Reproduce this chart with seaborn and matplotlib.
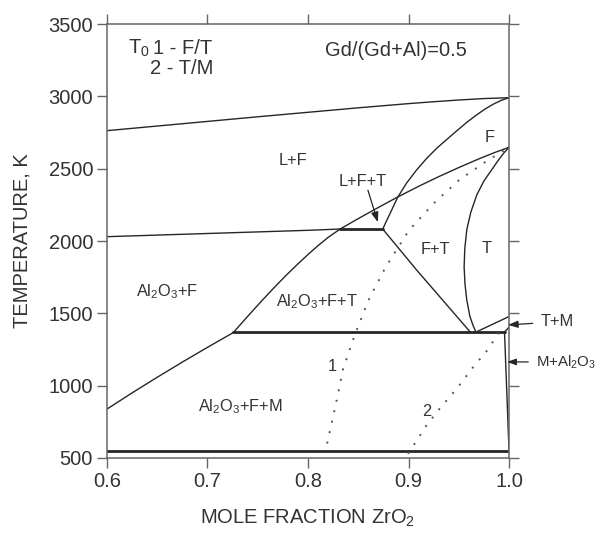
import matplotlib
matplotlib.use("Agg")
import matplotlib.pyplot as plt
import seaborn as sns

# ---- phase boundaries (mole fraction ZrO2, temperature K) ----
liquidus_x = [0.6, 0.65, 0.7, 0.75, 0.8, 0.85, 0.9, 0.925, 0.95, 0.975, 1.0]
liquidus_T = [2763, 2795, 2827, 2859, 2890, 2921, 2950, 2963, 2975, 2985, 2991]

l_lf_x = [0.8743, 0.882, 0.889, 0.898, 0.908, 0.918, 0.928, 0.938, 0.948, 0.958,
          0.967, 0.976, 0.984, 0.992, 1.0]
l_lf_T = [2083, 2196, 2300, 2400, 2491, 2571, 2641, 2702, 2762, 2821,
          2868, 2912, 2945, 2972, 2991]

solidus_left_x = [0.6, 0.7, 0.8, 0.832]
solidus_left_T = [2030, 2052, 2074, 2083]

f_ft_x = [0.832, 0.85, 0.87, 0.888, 0.91, 0.93, 0.95, 0.97, 0.985, 1.0]
f_ft_T = [2083, 2155, 2232, 2300, 2378, 2445, 2508, 2568, 2610, 2648]

peritectic_x = [0.832, 0.8743]
peritectic_T = [2083, 2083]

al_f_lower_x = [0.6, 0.625, 0.65, 0.675, 0.7, 0.7257]
al_f_lower_T = [838, 950, 1058, 1163, 1265, 1367]

al_f_upper_x = [0.7257, 0.735, 0.745, 0.755, 0.767, 0.779, 0.79, 0.80, 0.81, 0.82, 0.832]
al_f_upper_T = [1367, 1440, 1518, 1594, 1683, 1768, 1842, 1907, 1968, 2025, 2083]

ft_alft_x = [0.8743, 0.908, 0.9615]
ft_alft_T = [2083, 1800, 1370]

t_ft_x = [1.0, 0.995, 0.99, 0.983, 0.975, 0.968, 0.962, 0.958, 0.956, 0.9553,
          0.9562, 0.958, 0.961, 0.964, 0.967]
t_ft_T = [2648, 2610, 2565, 2495, 2415, 2320, 2200, 2080, 1950, 1820,
          1700, 1590, 1480, 1420, 1370]

eutectoid_x = [0.7257, 0.9955]
eutectoid_T = [1370, 1370]

t_tm_x = [0.967, 1.0]
t_tm_T = [1370, 1478]

tm_m_x = [0.9955, 1.0]
tm_m_T = [1370, 1405]

m_al_x = [0.9955, 1.0]
m_al_T = [1370, 545]

low_x = [0.6, 1.0]
low_T = [545, 545]

# ---- T0 curves ----
t0_ft_x = [0.819, 0.827, 0.835, 0.847, 0.86, 0.877, 0.9, 0.925, 0.95, 0.975, 0.991, 1.0]
t0_ft_T = [600, 850, 1118, 1360, 1589, 1817, 2070, 2260, 2420, 2540, 2610, 2648]

t0_tm_x = [0.8995, 0.919, 0.931, 0.948, 0.964, 0.978, 0.988, 0.994]
t0_tm_T = [529, 737, 841, 980, 1125, 1242, 1346, 1402]

x_ticks = [0.6, 0.7, 0.8, 0.9, 1.0]
x_tick_labels = ["0.6", "0.7", "0.8", "0.9", "1.0"]
y_ticks = [500, 1000, 1500, 2000, 2500, 3000, 3500]

sns.set_theme(style="ticks")
plt.rcParams["font.family"] = ["Liberation Sans", "DejaVu Sans"]
plt.rcParams["mathtext.fontset"] = "custom"
plt.rcParams["mathtext.rm"] = "Liberation Sans"
plt.rcParams["mathtext.it"] = "Liberation Sans:italic"
plt.rcParams["mathtext.bf"] = "Liberation Sans:bold"

line_c = "#262626"
axis_c = "#666666"
text_c = "#333333"

fig = plt.figure(figsize=(6.01, 5.35), dpi=100)
ax = fig.add_axes([0.178, 0.144, 0.669, 0.811])

thin = 1.0
thick = 2.0

def curve(xs, ys, lw=thin, ls="-", color=line_c):
    sns.lineplot(x=xs, y=ys, ax=ax, sort=False, estimator=None,
                 color=color, lw=lw, linestyle=ls, legend=False,
                 solid_joinstyle="round")

curve(liquidus_x, liquidus_T)
curve(l_lf_x, l_lf_T)
curve(solidus_left_x, solidus_left_T)
curve(f_ft_x, f_ft_T)
curve(peritectic_x, peritectic_T, lw=thick)
curve(al_f_lower_x, al_f_lower_T)
curve(al_f_upper_x, al_f_upper_T)
curve(ft_alft_x, ft_alft_T)
curve(t_ft_x, t_ft_T)
curve(eutectoid_x, eutectoid_T, lw=thick)
curve(t_tm_x, t_tm_T)
curve(tm_m_x, tm_m_T)
curve(m_al_x, m_al_T)
curve(low_x, low_T, lw=thick)
curve(t0_ft_x, t0_ft_T, lw=1.4, ls=(0, (1, 4.5)), color="#555555")
curve(t0_tm_x, t0_tm_T, lw=1.4, ls=(0, (1, 4.5)), color="#555555")

ax.set_xlim(0.6, 1.0)
ax.set_ylim(500, 3500)
ax.set_xticks(x_ticks)
ax.set_xticklabels(x_tick_labels)
ax.set_yticks(y_ticks)
ax.tick_params(direction="out", length=7, width=1.0, color=axis_c,
               labelsize=14.5, labelcolor=text_c, top=True, right=True, pad=3)
for s in ax.spines.values():
    s.set_visible(True)
    s.set_color(axis_c)
    s.set_linewidth(1.1)

ax.set_xlabel("MOLE FRACTION ZrO$_2$", fontsize=14.5, color=text_c, labelpad=12)
ax.set_ylabel("TEMPERATURE, K", fontsize=14.5, color=text_c, labelpad=12)

# ---- annotations ----
big = 14.5
mid = 11.8
ax.text(0.621, 3334, "T$_0$", fontsize=big, color=text_c, va="center", ha="left")
ax.text(0.646, 3334, "1 - F/T", fontsize=big, color=text_c, va="center", ha="left")
ax.text(0.643, 3196, "2 - T/M", fontsize=big, color=text_c, va="center", ha="left")
ax.text(0.8876, 3320, "Gd/(Gd+Al)=0.5", fontsize=big, color=text_c, va="center", ha="center")

region_labels = [
    (0.785, 2560, "L+F"),
    (0.8544, 2410, "L+F+T"),
    (0.981, 2719, "F"),
    (0.9272, 1938, "F+T"),
    (0.9778, 1950, "T"),
    (0.66, 1648, "Al$_2$O$_3$+F"),
    (0.809, 1579, "Al$_2$O$_3$+F+T"),
    (0.7323, 852, "Al$_2$O$_3$+F+M"),
    (0.8239, 1130, "1"),
    (0.918, 819, "2"),
]
for x, y, s in region_labels:
    ax.text(x, y, s, fontsize=mid, color=text_c, ha="center", va="center")

arrow_kw = dict(arrowstyle="-|>,head_length=0.5,head_width=0.18", color=line_c, lw=0.9,
                shrinkA=0, shrinkB=0)
ax.annotate("", xy=(0.8695, 2130), xytext=(0.8596, 2351), arrowprops=arrow_kw)
ax.annotate("T+M", xy=(0.999, 1420), xytext=(1.031, 1441), fontsize=mid, color=text_c,
            va="center", ha="left", arrowprops=dict(arrow_kw, shrinkA=3),
            annotation_clip=False)
ax.annotate("M+Al$_2$O$_3$", xy=(0.998, 1164), xytext=(1.0265, 1164), fontsize=10.8,
            color=text_c, va="center", ha="left", arrowprops=dict(arrow_kw, shrinkA=3),
            annotation_clip=False)

fig.savefig("out.png", dpi=100)
